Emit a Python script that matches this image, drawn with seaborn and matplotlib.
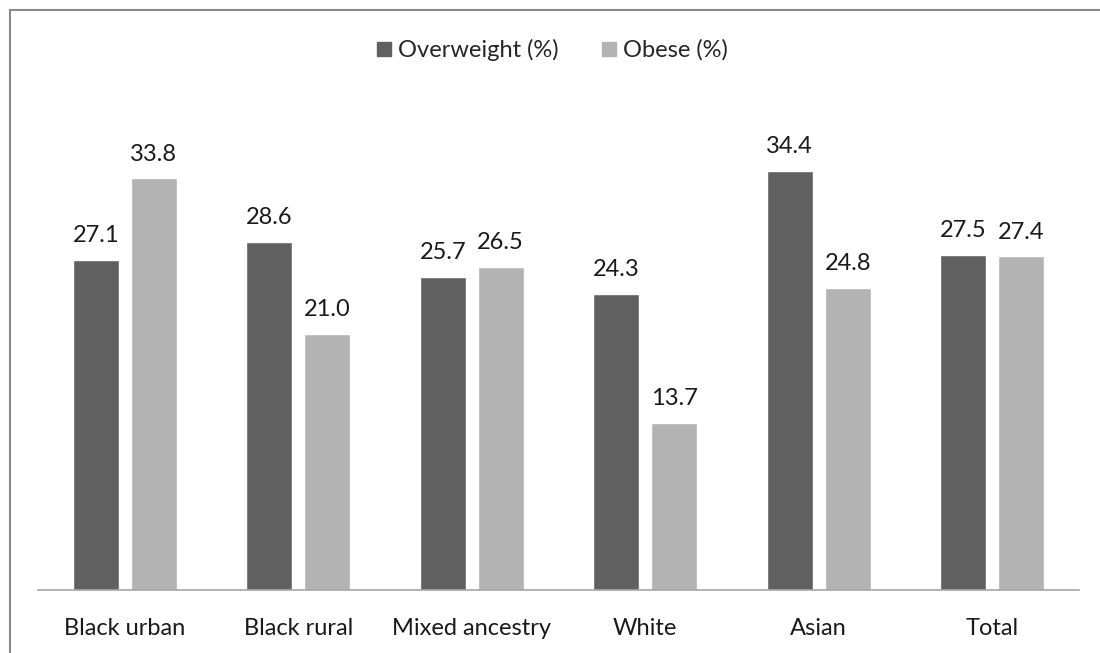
import matplotlib
matplotlib.use("Agg")
import matplotlib.pyplot as plt
from matplotlib.patches import Rectangle
import seaborn as sns
import pandas as pd

categories = ["Black urban", "Black rural", "Mixed ancestry", "White", "Asian", "Total"]
overweight = [27.1, 28.6, 25.7, 24.3, 34.4, 27.5]
obese = [33.8, 21.0, 26.5, 13.7, 24.8, 27.4]
series_names = ["Overweight (%)", "Obese (%)"]
colors = ["#606060", "#b3b3b3"]

df = pd.DataFrame({
    "group": categories * 2,
    "series": [series_names[0]] * len(categories) + [series_names[1]] * len(categories),
    "value": overweight + obese,
})

sns.set_theme(style="white")
plt.rcParams["font.family"] = ["Lato", "DejaVu Sans"]

W, H = 1100, 653
fig = plt.figure(figsize=(W / 100, H / 100), dpi=100)
ax = fig.add_axes([38 / W, (H - 590) / H, (1079 - 38) / W, (590 - 103) / H])

sns.barplot(data=df, x="group", y="value", hue="series", order=categories,
            hue_order=series_names, palette=colors, width=0.668, gap=0.207,
            saturation=1, ax=ax, legend=False)

ax.set_xlim(-0.5, len(categories) - 0.5)
ax.set_ylim(0, 40)
ax.set_xlabel("")
ax.set_ylabel("")
ax.set_yticks([])
ax.tick_params(axis="x", length=0, pad=20, labelsize=17, labelcolor="#1a1a1a")
for side in ["top", "right", "left"]:
    ax.spines[side].set_visible(False)
ax.spines["bottom"].set_color("#a6a6a6")
ax.spines["bottom"].set_linewidth(1.2)

for container in ax.containers:
    ax.bar_label(container, fmt="%.1f", padding=10, fontsize=17, color="#1a1a1a")

# legend across the top
handles = [plt.Line2D([], [], marker="s", linestyle="", markersize=10,
                      markerfacecolor=c, markeredgecolor=c) for c in colors]
fig.legend(handles, series_names, loc="center", bbox_to_anchor=(0.5, (H - 50) / H),
           ncol=2, frameon=False, fontsize=17, handletextpad=0.1,
           columnspacing=1.6, handlelength=1.0)

# outer chart frame (top and left edges visible)
fig.patches.append(Rectangle((9.5 / W, -0.1), 1.2, (H - 9.5) / H + 0.1,
                             transform=fig.transFigure, fill=False,
                             edgecolor="#8a8a8a", linewidth=1.5))

fig.savefig("out.png", dpi=100)
